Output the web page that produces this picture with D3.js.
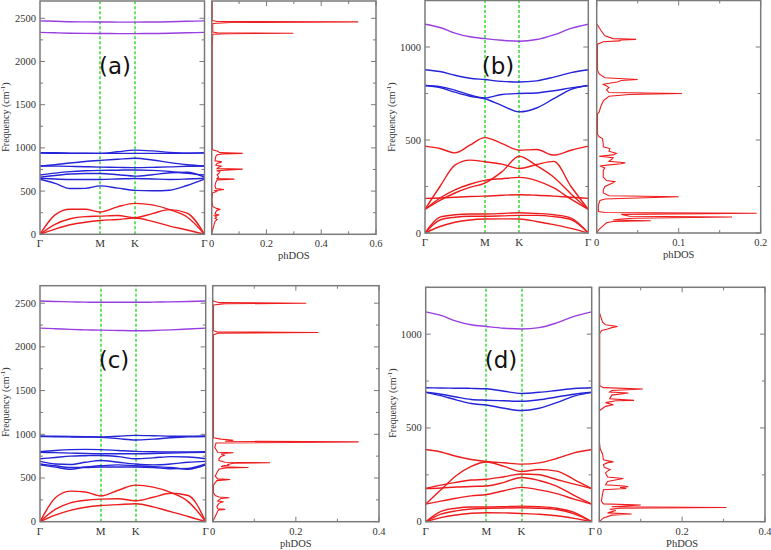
<!DOCTYPE html>
<html><head><meta charset="utf-8">
<script src="https://cdn.jsdelivr.net/npm/d3@7"></script>
<style>body{margin:0;background:#fff}svg{display:block}</style>
</head><body>
<svg id="c" width="771" height="550"></svg>
<script>
// ---------- data ----------
const kTicks = [0, 1, 1.577, 2.732];
const kLabels = ["Γ", "M", "K", "Γ"];
const kGrid = [0, 0.25, 0.5, 0.75, 1, 1.289, 1.577, 1.866, 2.155, 2.443, 2.732];

const yTicksBig = [0, 500, 1000, 1500, 2000, 2500];
const yTicksSmall = [0, 500, 1000];
const dosTicksA = [0, 0.2, 0.4, 0.6];
const dosTicksB = [0, 0.1, 0.2];
const dosTicksCD = [0, 0.2, 0.4];
const panelTags = ["(a)", "(b)", "(c)", "(d)"];
const dosTitles = ["phDOS", "phDOS", "phDOS", "PhDOS"];

// panel (a)
const aRed = [
  [0, 225, 290, 290, 258, 318, 358, 340, 285, 200, 0],
  [0, 115, 180, 205, 210, 218, 192, 240, 285, 245, 0],
  [0, 60, 110, 140, 160, 172, 188, 150, 95, 50, 0]
];
const aBlue = [
  [940, 938, 937, 937, 937, 937, 937, 937, 937, 938, 940],
  [945, 943, 940, 938, 937, 955, 974, 965, 948, 940, 945],
  [790, 805, 825, 842, 855, 868, 880, 860, 830, 805, 790],
  [790, 789, 786, 782, 778, 775, 772, 775, 780, 787, 790],
  [686, 708, 725, 735, 740, 742, 745, 740, 728, 705, 686],
  [662, 680, 698, 704, 704, 690, 673, 690, 712, 718, 662],
  [648, 640, 635, 634, 635, 640, 645, 640, 635, 640, 648],
  [638, 590, 530, 532, 560, 535, 508, 504, 510, 565, 638]
];
const aPurple = [
  [2470, 2466, 2460, 2458, 2457, 2456, 2456, 2457, 2460, 2465, 2470],
  [2337, 2332, 2327, 2325, 2324, 2323, 2323, 2324, 2327, 2332, 2337]
];
const aDos = [
  [0,0],[50,0.003],[100,0.008],[150,0.012],[170,0.02],[185,0.012],[200,0.018],[215,0.01],[223,0.028],[235,0.012],
  [260,0.015],[280,0.02],[288,0.032],[300,0.018],[320,0.004],[360,0.002],[400,0.001],[480,0.003],[495,0.018],
  [505,0.012],[519,0.045],[530,0.015],[560,0.012],[600,0.015],[630,0.02],[638,0.083],[645,0.02],[660,0.025],
  [690,0.02],[700,0.025],[723,0.03],[735,0.018],[754,0.113],[760,0.02],[775,0.025],[788,0.035],[800,0.015],
  [820,0.02],[838,0.037],[850,0.012],[900,0.015],[920,0.02],[930,0.04],[937,0.113],[945,0.03],[965,0.02],
  [975,0.005],[1000,0.002],[2200,0.002],[2315,0.004],[2322,0.06],[2327,0.298],[2332,0.02],[2340,0.004],
  [2440,0.004],[2452,0.07],[2458,0.535],[2463,0.02],[2475,0.002],[2700,0.002]
];

// panel (b)
const bRed = [
  [467, 454, 431, 472, 513, 481, 445, 449, 419, 445, 467],
  [127, 250, 365, 392, 383, 370, 347, 368, 385, 250, 127],
  [127, 175, 215, 245, 268, 330, 413, 362, 300, 210, 127],
  [127, 188, 232, 262, 283, 292, 299, 282, 242, 182, 127],
  [186, 188, 192, 196, 198, 203, 206, 203, 198, 192, 186],
  [0, 85, 98, 102, 102, 105, 109, 105, 98, 80, 0],
  [0, 70, 85, 90, 90, 92, 95, 95, 88, 72, 0],
  [0, 35, 58, 70, 75, 76, 75, 62, 45, 25, 0]
];
const bBlue = [
  [878, 868, 848, 832, 825, 815, 812, 818, 838, 862, 878],
  [793, 787, 768, 742, 726, 745, 750, 753, 765, 780, 793],
  [793, 782, 757, 735, 722, 685, 651, 672, 722, 772, 793]
];
const bPurple = [
  [1122, 1105, 1075, 1055, 1045, 1036, 1031, 1040, 1065, 1100, 1122]
];
const bDos = [
  [0,0],[20,0.003],[40,0.008],[55,0.012],[62,0.02],[66,0.066],[70,0.02],[75,0.03],[79,0.045],[86,0.165],
  [90,0.04],[100,0.03],[106,0.195],[110,0.01],[115,0.002],[150,0.002],[175,0.004],[183,0.01],[195,0.1],
  [200,0.015],[215,0.008],[231,0.008],[250,0.01],[270,0.02],[276,0.022],[282,0.012],[300,0.008],[338,0.008],
  [350,0.01],[360,0.004],[365,0.012],[372,0.03],[378,0.035],[385,0.015],[395,0.018],[405,0.02],[413,0.003],
  [420,0.02],[428,0.024],[440,0.015],[454,0.016],[463,0.008],[480,0.008],[508,0.007],[517,0.003],[530,0.001],
  [640,0.001],[651,0.003],[680,0.005],[710,0.008],[735,0.015],[745,0.04],[750,0.104],[755,0.015],[770,0.012],
  [782,0.015],[790,0.012],[800,0.008],[812,0.025],[820,0.03],[825,0.05],[835,0.01],[855,0.003],[875,0.001],
  [1015,0.001],[1028,0.008],[1033,0.028],[1038,0.03],[1041,0.048],[1045,0.02],[1060,0.01],[1090,0.005],[1125,0]
];

// panel (c)
const cRed = [
  [0, 270, 350, 340, 295, 360, 418, 395, 335, 230, 0],
  [0, 140, 215, 245, 258, 262, 240, 280, 325, 300, 0],
  [0, 75, 130, 165, 185, 195, 205, 170, 115, 60, 0]
];
const cBlue = [
  [980, 978, 975, 972, 970, 978, 988, 984, 978, 977, 980],
  [975, 972, 970, 968, 965, 950, 935, 945, 960, 970, 975],
  [800, 815, 825, 828, 825, 815, 805, 800, 798, 798, 800],
  [795, 790, 785, 780, 778, 778, 778, 780, 785, 790, 795],
  [720, 735, 750, 755, 758, 745, 720, 730, 745, 740, 720],
  [690, 660, 655, 680, 700, 680, 660, 650, 660, 680, 690],
  [660, 640, 620, 620, 625, 625, 625, 620, 605, 610, 660],
  [650, 625, 600, 625, 640, 650, 640, 630, 620, 600, 650]
];
const cPurple = [
  [2525, 2520, 2515, 2512, 2510, 2510, 2510, 2512, 2515, 2520, 2525],
  [2215, 2208, 2200, 2195, 2192, 2188, 2185, 2188, 2195, 2205, 2215]
];
const cDos = [
  [0,0],[40,0.004],[80,0.008],[120,0.012],[135,0.015],[141,0.03],[148,0.012],[170,0.01],[190,0.012],[210,0.015],
  [220,0.02],[228,0.026],[235,0.012],[250,0.015],[265,0.02],[274,0.04],[282,0.015],[300,0.006],[330,0.002],
  [420,0.002],[470,0.01],[478,0.03],[483,0.042],[490,0.012],[520,0.006],[560,0.01],[600,0.015],[615,0.03],
  [620,0.086],[628,0.02],[640,0.025],[647,0.04],[655,0.035],[668,0.05],[674,0.138],[680,0.03],[700,0.015],
  [720,0.015],[745,0.02],[761,0.028],[775,0.02],[788,0.05],[795,0.012],[850,0.005],[900,0.008],[913,0.351],
  [920,0.03],[932,0.05],[945,0.02],[960,0.002],[1000,0.002],[2140,0.002],[2158,0.015],[2165,0.254],[2172,0.01],
  [2185,0.002],[2480,0.002],[2493,0.03],[2500,0.225],[2506,0.015],[2525,0.002],[2540,0]
];

// panel (d)
const dRed = [
  [385, 372, 349, 332, 321, 314, 307, 314, 337, 367, 385],
  [94, 170, 245, 295, 318, 295, 268, 278, 270, 225, 177],
  [177, 195, 210, 222, 226, 240, 254, 250, 225, 200, 177],
  [177, 180, 185, 188, 190, 210, 236, 220, 190, 140, 94],
  [94, 110, 125, 138, 145, 165, 183, 170, 150, 120, 94],
  [0, 55, 72, 78, 78, 80, 83, 80, 72, 50, 0],
  [0, 40, 58, 68, 71, 73, 74, 72, 65, 42, 0],
  [0, 22, 36, 45, 48, 47, 44, 40, 32, 18, 0]
];
const dBlue = [
  [714, 713, 712, 711, 709, 696, 684, 690, 700, 710, 714],
  [690, 680, 665, 652, 648, 645, 642, 650, 665, 680, 690],
  [690, 672, 650, 630, 622, 605, 593, 605, 635, 670, 690]
];
const dPurple = [
  [1119, 1100, 1070, 1050, 1041, 1032, 1028, 1035, 1060, 1095, 1119]
];
const dDos = [
  [0,0],[20,0.01],[35,0.03],[41,0.078],[47,0.02],[60,0.04],[66,0.025],[72,0.05],[76,0.307],[80,0.03],[89,0.1],
  [95,0.01],[110,0.005],[150,0.008],[170,0.01],[177,0.065],[182,0.05],[186,0.07],[190,0.06],[197,0.015],
  [215,0.02],[225,0.045],[230,0.058],[238,0.02],[260,0.015],[270,0.02],[278,0.026],[290,0.012],[305,0.01],
  [315,0.02],[319,0.034],[330,0.01],[360,0.008],[390,0.002],[430,0],[590,0],[600,0.005],[615,0.015],[624,0.034],
  [635,0.015],[645,0.04],[647,0.084],[655,0.025],[675,0.03],[686,0.07],[692,0.025],[700,0.03],[708,0.105],
  [715,0.01],[725,0.001],[1005,0.001],[1020,0.006],[1028,0.02],[1035,0.03],[1041,0.044],[1050,0.015],
  [1064,0.008],[1090,0.004],[1117,0]
];

// ---------- layout ----------
const panels = [
  {bx0: 40, bx1: 204.5, dx0: 211.7, dx1: 376, yb: 234.3, yt: 1, ymax: 2700, yt_: yTicksBig, dmax: 0.6, dt: dosTicksA,
   red: aRed, blue: aBlue, purple: aPurple, dos: aDos, tagX: 115, tagY: 74, titleY: 117, titleX: 9},
  {bx0: 425, bx1: 588.3, dx0: 596.7, dx1: 760.7, yb: 233, yt: 0.5, ymax: 1250, yt_: yTicksSmall, dmax: 0.2, dt: dosTicksB,
   red: bRed, blue: bBlue, purple: bPurple, dos: bDos, tagX: 498, tagY: 74, titleY: 117, titleX: 395},
  {bx0: 40, bx1: 205.7, dx0: 212.7, dx1: 379, yb: 521.7, yt: 285.7, ymax: 2700, yt_: yTicksBig, dmax: 0.4, dt: dosTicksCD,
   red: cRed, blue: cBlue, purple: cPurple, dos: cDos, tagX: 114, tagY: 368, titleY: 402, titleX: 9},
  {bx0: 425.7, bx1: 591.7, dx0: 599.3, dx1: 765, yb: 521.7, yt: 287.3, ymax: 1250, yt_: yTicksSmall, dmax: 0.4, dt: dosTicksCD,
   red: dRed, blue: dBlue, purple: dPurple, dos: dDos, tagX: 501, tagY: 368, titleY: 403, titleX: 396}
];

const COL = {red: "#ee1c1c", blue: "#2424d8", purple: "#9a3ee0", green: "#44dd44", frame: "#7a7a7a", text: "#333"};
const serif = "'Liberation Serif','DejaVu Serif',serif";

const svg = d3.select("#c");
const defs = svg.append("defs");

panels.forEach((p, i) => {
  const g = svg.append("g");
  const y = d3.scaleLinear().domain([0, p.ymax]).range([p.yb, p.yt]);
  const x = d3.scaleLinear().domain([0, kTicks[3]]).range([p.bx0, p.bx1]);
  const xd = d3.scaleLinear().domain([0, p.dmax]).range([p.dx0, p.dx1]);

  defs.append("clipPath").attr("id", "cb" + i).append("rect")
    .attr("x", p.bx0).attr("y", p.yt).attr("width", p.bx1 - p.bx0).attr("height", p.yb - p.yt);
  defs.append("clipPath").attr("id", "cd" + i).append("rect")
    .attr("x", p.dx0).attr("y", p.yt).attr("width", p.dx1 - p.dx0).attr("height", p.yb - p.yt);

  // green dashed high-symmetry lines
  g.selectAll(".hs").data(kTicks.slice(1, 3)).enter().append("line")
    .attr("x1", d => Math.round(x(d))).attr("x2", d => Math.round(x(d)))
    .attr("y1", p.yb).attr("y2", p.yt)
    .attr("stroke", COL.green).attr("stroke-width", 1.6).attr("stroke-dasharray", "3,2");

  // bands
  const line = d3.line().x((d, j) => x(kGrid[j])).y(d => y(d)).curve(d3.curveMonotoneX);
  const bg = g.append("g").attr("clip-path", `url(#cb${i})`);
  [["red", p.red], ["blue", p.blue], ["purple", p.purple]].forEach(([c, arr]) => {
    bg.selectAll(null).data(arr).enter().append("path")
      .attr("d", line).attr("fill", "none").attr("stroke", COL[c]).attr("stroke-width", 1.4);
  });

  // DOS
  const dline = d3.line().x(d => xd(d[1])).y(d => y(d[0]));
  g.append("g").attr("clip-path", `url(#cd${i})`).append("path").datum(p.dos)
    .attr("d", dline).attr("fill", "none").attr("stroke", COL.red).attr("stroke-width", 1.1);

  // frames
  [[p.bx0, p.bx1], [p.dx0, p.dx1]].forEach(([a, b]) => {
    g.append("rect").attr("x", a).attr("y", p.yt).attr("width", b - a).attr("height", p.yb - p.yt)
      .attr("fill", "none").attr("stroke", COL.frame).attr("stroke-width", 1.5);
  });

  // ticks
  const minorY = d3.range(0, p.ymax + 1, 250);
  const tk = g.append("g").attr("stroke", COL.frame).attr("stroke-width", 1);
  minorY.forEach(v => {
    const L = (v % 500 === 0) ? 5 : 3;
    const yy = y(v);
    tk.append("line").attr("x1", p.bx0).attr("x2", p.bx0 + L).attr("y1", yy).attr("y2", yy);
    tk.append("line").attr("x1", p.bx1).attr("x2", p.bx1 - L).attr("y1", yy).attr("y2", yy);
    tk.append("line").attr("x1", p.dx1).attr("x2", p.dx1 - L).attr("y1", yy).attr("y2", yy);
  });
  const step = p.dt[1] - p.dt[0];
  d3.range(0, p.dmax + 1e-9, step / 2).forEach((v, j) => {
    const L = (j % 2 === 0) ? 5 : 3;
    const xx = xd(v);
    tk.append("line").attr("x1", xx).attr("x2", xx).attr("y1", p.yb).attr("y2", p.yb - L);
    tk.append("line").attr("x1", xx).attr("x2", xx).attr("y1", p.yt).attr("y2", p.yt + L);
  });

  g.selectAll(".yl").data(p.yt_).enter().append("text")
    .attr("x", p.bx0 - 4).attr("y", d => y(d) + 3.5).attr("text-anchor", "end")
    .attr("font-family", serif).attr("font-size", 10.5).attr("fill", COL.text).text(d => d);

  g.selectAll(".kl").data(kTicks).enter().append("text")
    .attr("x", d => x(d)).attr("y", p.yb + 13).attr("text-anchor", "middle")
    .attr("font-family", serif).attr("font-size", 11).attr("fill", COL.text)
    .text((d, j) => kLabels[j]);

  g.selectAll(".dl").data(p.dt).enter().append("text")
    .attr("x", d => xd(d)).attr("y", p.yb + 13).attr("text-anchor", "middle")
    .attr("font-family", serif).attr("font-size", 10.5).attr("fill", COL.text)
    .text(d => d === 0 ? "0" : d3.format(".1f")(d));

  g.append("text").attr("x", (p.dx0 + p.dx1) / 2).attr("y", p.yb + 25).attr("text-anchor", "middle")
    .attr("font-family", serif).attr("font-size", 10.5).attr("fill", COL.text).text(dosTitles[i]);

  const t = g.append("text").attr("transform", `translate(${p.titleX},${p.titleY}) rotate(-90)`)
    .attr("text-anchor", "middle").attr("font-family", serif).attr("font-size", 10).attr("fill", COL.text);
  t.append("tspan").text("Frequency (cm");
  t.append("tspan").attr("dy", -4).attr("font-size", 7).text("-1");
  t.append("tspan").attr("dy", 4).text(")");

  g.append("text").attr("x", p.tagX).attr("y", p.tagY).attr("text-anchor", "middle")
    .attr("font-family", "'DejaVu Sans',Verdana,sans-serif").attr("font-size", 23).attr("fill", "#111")
    .text(panelTags[i]);
});
</script>
</body></html>
